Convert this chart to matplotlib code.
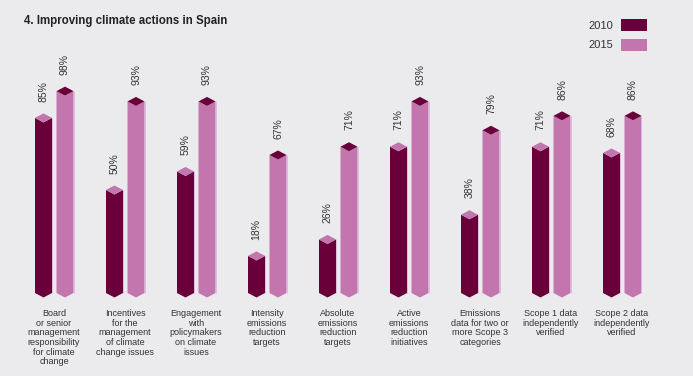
import matplotlib
matplotlib.use("Agg")
import matplotlib.pyplot as plt
from matplotlib.patches import Polygon, Patch

plt.rcParams['font.family'] = ['Liberation Sans', 'DejaVu Sans']

title = "4. Improving climate actions in Spain"
categories = [
    "Board\nor senior\nmanagement\nresponsibility\nfor climate\nchange",
    "Incentives\nfor the\nmanagement\nof climate\nchange issues",
    "Engagement\nwith\npolicymakers\non climate\nissues",
    "Intensity\nemissions\nreduction\ntargets",
    "Absolute\nemissions\nreduction\ntargets",
    "Active\nemissions\nreduction\ninitiatives",
    "Emissions\ndata for two or\nmore Scope 3\ncategories",
    "Scope 1 data\nindependently\nverified",
    "Scope 2 data\nindependently\nverified",
]
series_names = ["2010", "2015"]
values_2010 = [85, 50, 59, 18, 26, 71, 38, 71, 68]
values_2015 = [98, 93, 93, 67, 71, 93, 79, 86, 86]

c_dark = "#690039"
c_pink = "#C276AD"
bg = "#EBEBEE"
txt = "#333333"

W, H = 693, 376
fig = plt.figure(figsize=(W / 100, H / 100), dpi=100, facecolor=bg)

px_per_cat = 71.0
x0_px = 54.0 - 0.5 * px_per_cat
zero_px = 293.0
top_px = 20.0
px_per_unit = 2.06
ax_w = px_per_cat * len(categories)
ax_h = zero_px - top_px
ax = fig.add_axes([x0_px / W, (H - zero_px) / H, ax_w / W, ax_h / H])
ax.set_facecolor(bg)
ax.set_xlim(-0.5, len(categories) - 0.5)
ax.set_ylim(0, ax_h / px_per_unit)
ax.axis('off')

bar_w = 17.0 / px_per_cat
offsets = [-10.5 / px_per_cat, 11.0 / px_per_cat]
h = 4.5 / px_per_unit

series = [values_2010, values_2015]
body_colors = [c_dark, c_pink]
top_colors = [c_pink, c_dark]

for s, vals in enumerate(series):
    for i, v in enumerate(vals):
        xc = i + offsets[s]
        xl, xr = xc - bar_w / 2, xc + bar_w / 2
        body = Polygon([(xl, v), (xc, v - h), (xr, v), (xr, 0), (xc, -h), (xl, 0)],
                       closed=True, facecolor=body_colors[s], edgecolor='none',
                       clip_on=False)
        ax.add_patch(body)
        ax.plot([xr, xr], [0, v], color="#D9B3E6", lw=0.6, clip_on=False,
                solid_capstyle='butt')
        topf = Polygon([(xl, v), (xc, v + h), (xr, v), (xc, v - h)], closed=True,
                       facecolor=top_colors[s], edgecolor='none', clip_on=False)
        ax.add_patch(topf)
        ax.annotate(f"{v}%", (xc, v + h), xytext=(0, 8.5), textcoords='offset points',
                    rotation=90, ha='center', va='bottom', fontsize=7.5, color=txt)

for i, lab in enumerate(categories):
    ax.annotate(lab, (i, 0), xytext=(0, -11.5), textcoords='offset points',
                ha='center', va='top', fontsize=6.5, color=txt, linespacing=1.1,
                annotation_clip=False)

fig.text(24 / W, 1 - 21 / H, title, fontsize=8.3, fontweight='bold', color="#222222",
         ha='left', va='center')

handles = [Patch(facecolor=c_dark, edgecolor='none'), Patch(facecolor=c_pink, edgecolor='none')]
fs = 8
fpx = fs * 100 / 72
fig.legend(handles, series_names, loc='upper right',
           bbox_to_anchor=(647 / W, 1 - 19 / H), bbox_transform=fig.transFigure,
           markerfirst=False, frameon=False, fontsize=fs, labelcolor=txt,
           handlelength=26 / fpx, handleheight=14 / fpx, handletextpad=8 / fpx,
           labelspacing=0.72, borderpad=0, borderaxespad=0)

fig.savefig("out.png", dpi=100, facecolor=bg)
